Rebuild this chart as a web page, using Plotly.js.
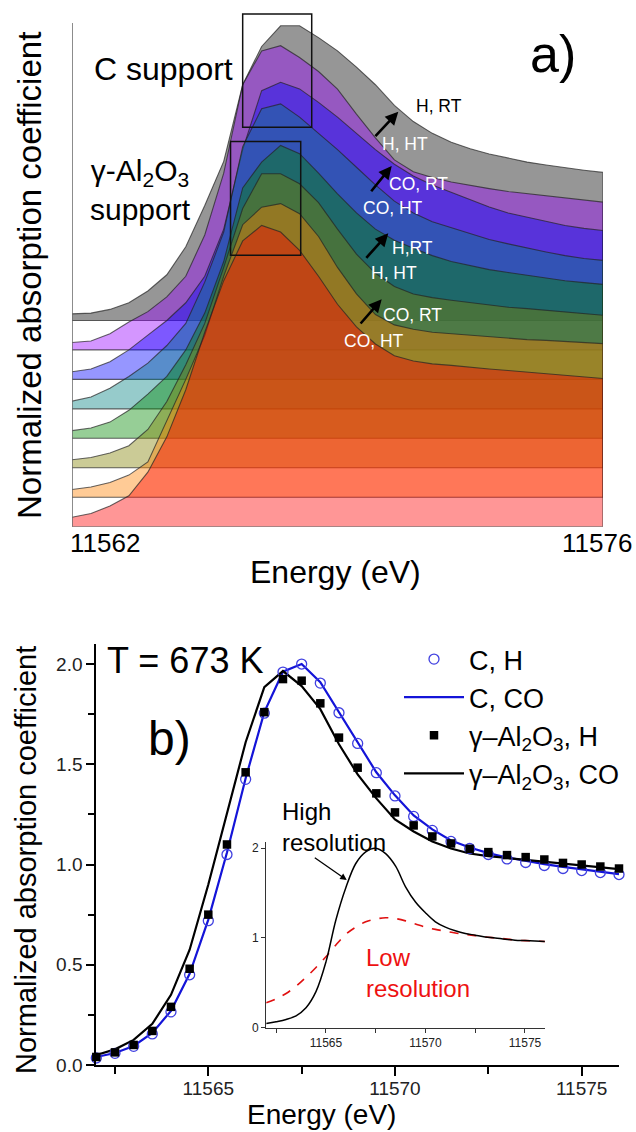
<!DOCTYPE html>
<html><head><meta charset="utf-8">
<script src="https://cdn.plot.ly/plotly-3.0.1.min.js"></script>
<style>html,body{margin:0;padding:0;background:#fff;}#chart{width:636px;height:1132px;}</style>
</head><body><div id="chart"></div>
<script>
// ---------- DATA ----------
const energy = [11562,11562.5,11563,11563.5,11564,11564.5,11565,11565.5,11566,11566.5,11567,11567.5,11568,11568.5,11569,11569.5,11570,11570.5,11571,11571.5,11572,11572.5,11573,11573.5,11574,11574.5,11575,11575.5,11576];

// panel a) stacked spectra (value above own baseline)
const alCO_HT = [0.064,0.09,0.14,0.21,0.37,0.61,0.93,1.32,1.67,1.94,2.045,2.0,1.876,1.70,1.51,1.356,1.24,1.16,1.125,1.105,1.095,1.08,1.07,1.06,1.05,1.04,1.03,1.018,1.006];
const alCO_RT = [0.052,0.07,0.10,0.15,0.24,0.52,0.80,1.10,1.50,1.85,1.969,1.993,1.925,1.77,1.56,1.38,1.24,1.17,1.14,1.12,1.11,1.10,1.085,1.075,1.07,1.065,1.058,1.05,1.043];
const alH_HT  = [0.054,0.07,0.10,0.15,0.26,0.45,0.70,0.98,1.36,1.76,1.996,1.996,1.928,1.80,1.62,1.45,1.32,1.23,1.18,1.155,1.137,1.12,1.105,1.09,1.08,1.07,1.055,1.045,1.035];
const alH_RT  = [0.052,0.07,0.11,0.19,0.30,0.42,0.60,0.85,1.20,1.70,1.875,1.988,1.932,1.80,1.66,1.53,1.42,1.345,1.29,1.24,1.20,1.17,1.145,1.125,1.105,1.09,1.07,1.057,1.045];
const cCO_HT  = [0.052,0.08,0.14,0.22,0.31,0.43,0.58,0.86,1.20,1.78,2.037,2.07,1.98,1.87,1.76,1.64,1.52,1.41,1.33,1.27,1.23,1.19,1.15,1.12,1.09,1.065,1.04,1.02,1.008];
const cCO_RT  = [0.052,0.07,0.12,0.20,0.30,0.40,0.52,0.70,1.02,1.56,1.96,2.017,1.972,1.88,1.78,1.67,1.56,1.46,1.38,1.32,1.27,1.22,1.17,1.13,1.10,1.07,1.045,1.025,1.011];
const cH_HT   = [0.05,0.06,0.11,0.19,0.26,0.36,0.50,0.78,1.20,1.80,2.03,2.065,1.985,1.89,1.77,1.60,1.44,1.29,1.21,1.17,1.14,1.115,1.095,1.075,1.06,1.045,1.03,1.015,1.003];
const cH_RT   = [0.045,0.05,0.075,0.12,0.20,0.31,0.50,0.78,1.08,1.60,1.86,2.0,2.0,1.92,1.83,1.72,1.60,1.46,1.35,1.27,1.21,1.165,1.13,1.10,1.075,1.055,1.035,1.02,1.005];
const stackOffsets = [0,0.2,0.4,0.6,0.8,1.0,1.2,1.4];
const stackLabels = ['CO, HT','CO, RT','H, HT','H,RT','CO, HT','CO, RT','H, HT','H, RT'];
const aTickVals = [11562, 11576];
const aTickText = ['11562','11576'];

// panel b) T = 673 K
const bC_H   = [0.035,0.058,0.093,0.155,0.265,0.45,0.72,1.05,1.425,1.755,1.96,2.0,1.905,1.757,1.604,1.458,1.342,1.24,1.17,1.115,1.08,1.05,1.028,1.01,0.995,0.98,0.97,0.96,0.95];
const bC_CO  = [0.04,0.06,0.095,0.16,0.27,0.455,0.725,1.06,1.43,1.76,1.962,2.0,1.91,1.76,1.607,1.46,1.345,1.245,1.175,1.12,1.085,1.057,1.035,1.018,1.002,0.988,0.975,0.963,0.952];
const bAl_H  = [0.04,0.063,0.10,0.17,0.29,0.48,0.75,1.10,1.46,1.76,1.925,1.917,1.804,1.633,1.483,1.355,1.26,1.195,1.14,1.105,1.078,1.062,1.047,1.037,1.025,1.008,1.0,0.99,0.98];
const bAl_CO = [0.05,0.078,0.125,0.205,0.35,0.575,0.90,1.26,1.61,1.885,1.965,1.89,1.775,1.60,1.45,1.33,1.225,1.165,1.115,1.08,1.055,1.042,1.033,1.025,1.016,1.006,0.996,0.986,0.977];

// inset
const insetHigh = [0.045,0.065,0.09,0.13,0.22,0.40,0.73,1.20,1.56,1.83,1.96,2.0,1.94,1.80,1.57,1.40,1.28,1.18,1.12,1.08,1.05,1.03,1.01,1.0,0.985,0.975,0.97,0.965,0.96];
const insetLow  = [0.275,0.32,0.38,0.46,0.56,0.67,0.79,0.92,1.04,1.12,1.18,1.21,1.225,1.215,1.19,1.155,1.12,1.095,1.075,1.055,1.04,1.025,1.01,1.0,0.99,0.975,0.97,0.965,0.96];

// ---------- STYLE ----------
const FONT = 'Liberation Sans, Arial, Helvetica, sans-serif';
const stackSeries = [alCO_HT, alCO_RT, alH_HT, alH_RT, cCO_HT, cCO_RT, cH_HT, cH_RT];
const stackColors = ['rgba(255,0,0,0.41)','rgba(255,128,0,0.41)','rgba(128,128,0,0.41)','rgba(0,135,0,0.41)',
                     'rgba(0,128,128,0.41)','rgba(0,0,255,0.41)','rgba(150,0,255,0.41)','rgba(0,0,0,0.41)'];
const W = 636, H = 1132;
const px = v => v / W, py = v => 1 - v / H;

const traces = [];
// draw top spectrum first so lower ones sit on top
for (let k = stackSeries.length - 1; k >= 0; k--) {
  const off = stackOffsets[k];
  const xs = energy.concat(energy.slice().reverse());
  const ys = stackSeries[k].map(v => v + off).concat(energy.map(() => off));
  traces.push({x: xs, y: ys, xaxis: 'x', yaxis: 'y', type: 'scatter', mode: 'lines',
    fill: 'toself', fillcolor: stackColors[k],
    line: {color: 'rgba(35,35,35,0.7)', width: 1.1}, showlegend: false, hoverinfo: 'skip'});
}

// panel b
traces.push({x: energy, y: bC_CO, xaxis: 'x2', yaxis: 'y2', mode: 'lines', name: 'C, CO',
  line: {color: '#1414d8', width: 2.2}, legendrank: 2});
traces.push({x: energy, y: bAl_CO, xaxis: 'x2', yaxis: 'y2', mode: 'lines', name: 'γ–Al<sub>2</sub>O<sub>3</sub>, CO',
  line: {color: '#000', width: 2.2}, legendrank: 4});
traces.push({x: energy, y: bC_H, xaxis: 'x2', yaxis: 'y2', mode: 'markers', name: 'C, H',
  marker: {symbol: 'circle-open', size: 10, color: '#4040e0', line: {width: 1.3}}, cliponaxis: false, legendrank: 1});
traces.push({x: energy, y: bAl_H, xaxis: 'x2', yaxis: 'y2', mode: 'markers', name: 'γ–Al<sub>2</sub>O<sub>3</sub>, H',
  marker: {symbol: 'square', size: 8.5, color: '#000'}, cliponaxis: false, legendrank: 3});
// inset
traces.push({x: energy, y: insetLow, xaxis: 'x3', yaxis: 'y3', mode: 'lines', line: {color: '#e01010', width: 1.6, dash: 'dash', shape: 'spline'}, showlegend: false});
traces.push({x: energy, y: insetHigh, xaxis: 'x3', yaxis: 'y3', mode: 'lines', line: {color: '#000', width: 1.5, shape: 'spline'}, showlegend: false});

const ann = [];
const txt = (text, x, y, size, extra) => ann.push(Object.assign({text, x: px(x), y: py(y), xref: 'paper', yref: 'paper',
  xanchor: 'center', yanchor: 'middle', showarrow: false, font: {family: FONT, size, color: '#000'}}, extra || {}));

// panel a texts
txt('Normalized absorption coefficient', 30, 276, 33, {textangle: -90});
txt('Energy (eV)', 335, 572, 32);
txt('C support', 163, 69, 32);
txt('γ-Al<sub>2</sub>O<sub>3</sub><br>support', 140, 190, 30);
txt('a)', 553, 54, 52);
aTickVals.forEach((v, i) => ann.push({text: aTickText[i], x: v, xref: 'x', y: py(543), yref: 'paper', showarrow: false,
  xanchor: 'center', yanchor: 'middle', xshift: i === 0 ? 33 : -6, font: {family: FONT, size: 26, color: '#000'}}));
const labPos = [[374,341.5],[412,314.5],[394.5,273.5],[412.5,247.5],[393,208.5],[418,183.5],[405,143.5],[438.5,105.5]];
stackLabels.forEach((t, k) => txt(t, labPos[k][0], labPos[k][1], 17.5, {font: {family: FONT, size: 17.5, color: k === 7 ? '#000' : '#fff'}}));
const arrows = [[381.7,299.3,-22.4,25.7],[388.3,233.3,-23.3,26],[391.7,166,-21.7,26.7],[398.3,111.7,-24.3,26]];
arrows.forEach(a => ann.push({text: '', x: px(a[0]), y: py(a[1]), xref: 'paper', yref: 'paper', ax: a[2], ay: a[3],
  xanchor: 'center', yanchor: 'middle',
  showarrow: true, arrowhead: 2, arrowsize: 1, arrowwidth: 2.6, arrowcolor: '#000', standoff: 0, startstandoff: 0}));

// panel b texts
txt('Normalized absorption coefficient', 26, 860, 29, {textangle: -90});
txt('Energy (eV)', 321, 1114, 28);
txt('T = 673 K', 105, 660, 36, {xanchor: 'left'});
txt('b)', 169, 738, 48);
txt('High<br>resolution', 280, 796, 24, {xanchor: 'left', yanchor: 'top', align: 'left'});
txt('Low<br>resolution', 364, 942, 24, {xanchor: 'left', yanchor: 'top', align: 'left', font: {family: FONT, size: 24, color: '#ee1111'}});
ann.push({text: '', x: px(346.7), y: py(880), xref: 'paper', yref: 'paper', ax: -33.4, ay: -23.3, showarrow: true,
  xanchor: 'center', yanchor: 'middle', arrowhead: 2, arrowsize: 1, arrowwidth: 1.3, arrowcolor: '#000', standoff: 0});

const shapes = [
  {type: 'line', xref: 'x', yref: 'y', x0: 11562, x1: 11562, y0: 0, y1: 3.42, line: {color: '#666', width: 1.5}},
  {type: 'rect', xref: 'x', yref: 'y', x0: 11566.5, x1: 11568.32, y0: 2.712, y1: 3.481, line: {color: '#111', width: 1.5}},
  {type: 'rect', xref: 'x', yref: 'y', x0: 11566.18, x1: 11568.03, y0: 1.842, y1: 2.615, line: {color: '#111', width: 1.5}}
];

const noAx = {showticklabels: false, ticks: '', showline: false, showgrid: false, zeroline: false, fixedrange: true};
const layout = {
  width: W, height: H, margin: {l: 0, r: 0, t: 0, b: 0, pad: 0},
  paper_bgcolor: '#fff', plot_bgcolor: 'rgba(0,0,0,0)',
  font: {family: FONT, color: '#000'},
  xaxis: Object.assign({domain: [0.11321, 0.94811], range: [11562, 11576], anchor: 'y'}, noAx),
  yaxis: Object.assign({domain: [0.53472, 0.99541], range: [0, 3.54], anchor: 'x'}, noAx),
  xaxis2: {domain: [0.15142, 0.97327], anchor: 'y2', range: [11562, 11576], showline: true, linecolor: '#000', linewidth: 2,
    ticks: 'outside', ticklen: 9, tickwidth: 2, tickcolor: '#000', dtick: 5, tick0: 11565, tickformat: 'd',
    ticklabelstandoff: -4,
    minor: {dtick: 2.5, ticks: 'outside', ticklen: 7, tickwidth: 2, tickcolor: '#000'},
    tickfont: {size: 19, color: '#222'}, showgrid: false, zeroline: false},
  yaxis2: {domain: [0.05919, 0.43110], anchor: 'x2', range: [0, 2.1], showline: true, linecolor: '#000', linewidth: 2,
    ticks: 'outside', ticklen: 8, tickwidth: 2, tickcolor: '#000', dtick: 0.5, tick0: 0, tickformat: '.1f',
    minor: {dtick: 0.25, ticks: 'outside', ticklen: 6, tickwidth: 2, tickcolor: '#000'},
    tickfont: {size: 19, color: '#222'}, showgrid: false, zeroline: false},
  xaxis3: {domain: [0.41855, 0.85676], anchor: 'y3', range: [11562, 11576], showline: true, linecolor: '#333', linewidth: 1,
    ticks: 'outside', ticklen: 4, tickwidth: 1, tickcolor: '#333', dtick: 5, tick0: 11565, tickformat: 'd',
    minor: {dtick: 2.5, ticks: 'outside', ticklen: 4, tickwidth: 1, tickcolor: '#333'},
    tickfont: {size: 12, color: '#222'}, showgrid: false, zeroline: false},
  yaxis3: {domain: [0.09231, 0.25618], anchor: 'x3', range: [0, 2.07], showline: true, linecolor: '#333', linewidth: 1,
    ticks: 'outside', ticklen: 4, tickwidth: 1, tickcolor: '#333', dtick: 1, tick0: 0, tickformat: 'd',
    tickfont: {size: 12, color: '#222'}, showgrid: false, zeroline: false},
  showlegend: true,
  legend: {x: px(399), y: py(635), xanchor: 'left', yanchor: 'top', bgcolor: 'rgba(0,0,0,0)',
    font: {family: FONT, size: 27, color: '#000'}, itemwidth: 60, tracegroupgap: 0},
  annotations: ann, shapes: shapes
};
Plotly.newPlot('chart', traces, layout, {displayModeBar: false, staticPlot: true});
</script>
</body></html>
